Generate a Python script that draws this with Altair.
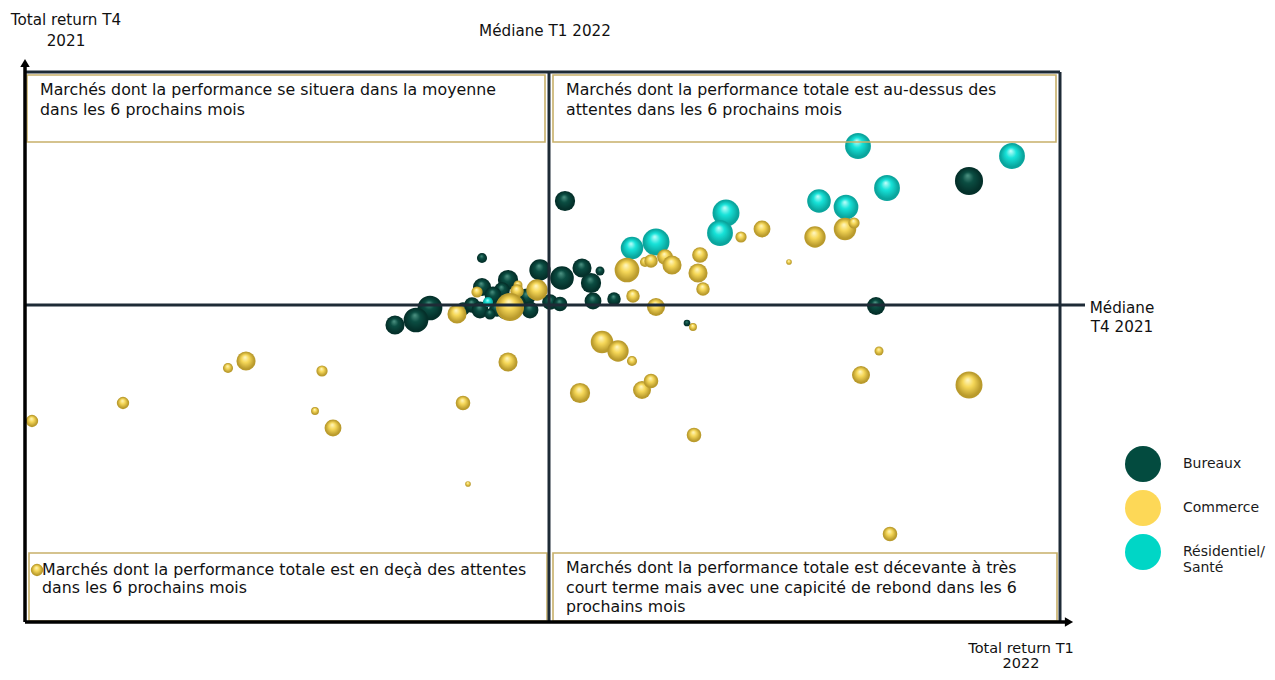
import altair as alt
import pandas as pd

FONT = "DejaVu Sans"

# ---- data (x: total return T1 2022 %, y: total return T4 2021 %, taille: poids du marché)
bur_x = [1.33, 1.91, 1.59, 1.33, 1.53, 1.44, 1.78, 1.14, 1.23, 1.31, 1.48, 1.41, 1.81, 2.01, 2.11,
         0.81, 0.67, 0.46, 2.16, 2.13, 2.33, 2.51, 2.42, 2.44, 2.65, 6.20, 5.27, 3.38, 1.69, 1.56]
bur_y = [2.44, 2.20, 2.00, 1.86, 1.80, 1.70, 1.66, 1.42, 1.50, 1.40, 1.42, 1.32, 1.40, 1.56, 1.52,
         1.44, 1.20, 1.10, 3.58, 2.04, 2.24, 2.18, 1.94, 1.58, 1.62, 3.98, 1.48, 1.14, 1.54, 1.36]
bur_t = [9, 19, 18, 16, 14, 15, 15, 12, 14, 15, 14, 10, 15, 14, 13,
         22, 22, 17, 18, 21, 17, 8, 18, 15, 12, 25, 16, 6, 14, 13]

com_x = [1.28, 1.69, 1.68, 1.88, 1.08, 1.61, 2.78, 2.96, 3.02, 3.16, 3.23, 3.51, 3.49, 3.54, 2.84,
         3.07, 3.92, 4.13, 4.40, 4.66, 4.96, 5.05, 3.44, 2.53, 2.69, 2.83, 2.31, 2.93, 3.02, 3.45,
         5.30, 5.12, 6.20, 5.41, -3.17, -2.26, -1.03, -1.21, -0.27, -0.34, -0.16, 1.14, 1.59, 1.19, -3.12]
com_y = [1.76, 1.90, 1.78, 1.80, 1.32, 1.46, 2.20, 2.36, 2.38, 2.46, 2.30, 2.50, 2.14, 1.82, 1.68,
         1.46, 2.86, 3.02, 2.36, 2.86, 3.02, 3.14, 1.06, 0.76, 0.58, 0.38, -0.26, -0.20, -0.02, -1.10,
         0.58, 0.10, -0.10, -3.08, -0.82, -0.46, 0.38, 0.24, 0.18, -0.62, -0.96, -0.46, 0.36, -2.08, -3.80]
com_t = [10, 8, 12, 19, 17, 25, 22, 9, 12, 14, 17, 14, 17, 12, 12,
         16, 10, 15, 5, 19, 20, 10, 7, 20, 19, 9, 18, 16, 13, 13,
         8, 16, 24, 13, 11, 11, 17, 9, 10, 7, 15, 13, 17, 5, 11]

res_x = [1.39, 2.83, 3.07, 3.77, 3.71, 4.70, 4.97, 5.38, 5.09, 6.63]
res_y = [1.56, 2.64, 2.76, 3.34, 2.94, 3.58, 3.46, 3.84, 4.68, 4.48]
res_t = [9, 20, 24, 24, 23, 21, 22, 23, 23, 23]

categories = ["Bureaux", "Commerce", "Résidentiel/Santé"]
legend_colors = ["#034b3f", "#fdd857", "#00d6c6"]

median_x = 2.0   # Médiane T1 2022
median_y = 1.5   # Médiane T4 2021
x_domain = [-3.24, 7.11]
y_domain = [-4.84, 6.16]

txt_tl = ["Marchés dont la performance se situera dans la moyenne", "dans les 6 prochains mois"]
txt_tr = ["Marchés dont la performance totale est au-dessus des", "attentes dans les 6 prochains mois"]
txt_bl = ["Marchés dont la performance totale est en deçà des attentes", "dans les 6 prochains mois"]
txt_br = ["Marchés dont la performance totale est décevante à très",
          "court terme mais avec une capicité de rebond dans les 6", "prochains mois"]
lab_y = ["Total return T4", "2021"]
lab_x = ["Total return T1", "2022"]
lab_mx = "Médiane T1 2022"
lab_my = ["Médiane", "T4 2021"]

W, H = 1035, 550

df_b = pd.DataFrame({"x": bur_x, "y": bur_y, "taille": bur_t, "secteur": categories[0]})
df_c = pd.DataFrame({"x": com_x, "y": com_y, "taille": com_t, "secteur": categories[1]})
df_r = pd.DataFrame({"x": res_x, "y": res_y, "taille": res_t, "secteur": categories[2]})
df_all = pd.concat([df_b, df_r, df_c], ignore_index=True)
dummy = pd.DataFrame({"d": [0]})

xs = alt.Scale(domain=x_domain, nice=False, zero=False)
ys = alt.Scale(domain=y_domain, nice=False, zero=False)
sz = alt.Scale(type="pow", exponent=2, domain=[0, 25], range=[0, 790])


def sphere(light, base, dark):
    return {
        "gradient": "radial",
        "x1": 0.45, "y1": 0.3, "r1": 0.0,
        "x2": 0.5, "y2": 0.5, "r2": 0.5,
        "stops": [
            {"offset": 0.0, "color": light},
            {"offset": 0.4, "color": base},
            {"offset": 0.88, "color": dark},
            {"offset": 1.0, "color": dark},
        ],
    }


def bubbles(df, grad):
    return alt.Chart(df).mark_point(
        shape="circle", filled=True, fill=grad, strokeWidth=0, opacity=1
    ).encode(
        x=alt.X("x:Q", scale=xs, axis=None),
        y=alt.Y("y:Q", scale=ys, axis=None),
        size=alt.Size("taille:Q", scale=sz, legend=None),
    )


legend_layer = alt.Chart(df_all).mark_point(shape="circle", filled=True, opacity=0).encode(
    x=alt.X("x:Q", scale=xs, axis=None),
    y=alt.Y("y:Q", scale=ys, axis=None),
    color=alt.Color(
        "secteur:N",
        scale=alt.Scale(domain=categories, range=legend_colors),
        legend=alt.Legend(
            title=None, orient="none", legendX=1100, legendY=374,
            symbolType="circle", symbolSize=1296, symbolStrokeWidth=0, symbolOpacity=1,
            labelFont=FONT, labelFontSize=14, labelColor="#1a1a1a", labelOffset=22,
            rowPadding=8, padding=0, labelLimit=200,
            labelExpr="datum.label == 'Résidentiel/Santé' ? ['Résidentiel/', 'Santé'] : datum.label",
        ),
    ),
)

pts_b = bubbles(df_b, sphere("#4f9585", "#0b4d42", "#04302a"))
pts_r = bubbles(df_r, sphere("#c4fffb", "#17e3d9", "#0aa59d"))
pts_c = bubbles(df_c, sphere("#fff8c8", "#f6d859", "#b99a2c"))

GOLD = "#c7b06a"
DARK = "#1e2b36"


def box(x, x2, y, y2):
    return alt.Chart(dummy).mark_rect(fill="transparent", stroke=GOLD, strokeWidth=1.6).encode(
        x=alt.value(x), x2=alt.value(x2), y=alt.value(y), y2=alt.value(y2)
    )


def label(lines, x, y, align="left", size=15, lh=20, color="#111111"):
    # y is the position of the first line
    return alt.Chart(dummy).mark_text(
        text=lines, align=align, baseline="middle", font=FONT, fontSize=size,
        lineHeight=lh, color=color
    ).encode(x=alt.value(x), y=alt.value(y))


def hrule(x, x2, y, color, width):
    return alt.Chart(dummy).mark_rule(color=color, strokeWidth=width).encode(
        x=alt.value(x), x2=alt.value(x2), y=alt.value(y)
    )


def vrule(x, y, y2, color, width):
    return alt.Chart(dummy).mark_rule(color=color, strokeWidth=width).encode(
        x=alt.value(x), y=alt.value(y), y2=alt.value(y2)
    )


med_v = alt.Chart(dummy).mark_rule(color=DARK, strokeWidth=3).encode(
    x=alt.datum(median_x, scale=xs), y=alt.value(0), y2=alt.value(H)
)
med_h = alt.Chart(dummy).mark_rule(color=DARK, strokeWidth=3).encode(
    y=alt.datum(median_y, scale=ys), x=alt.value(0), x2=alt.value(1060)
)

arrow_up = alt.Chart(dummy).mark_point(shape="triangle-up", filled=True, size=90, color="#000000", opacity=1).encode(
    x=alt.value(0), y=alt.value(-9)
)
arrow_right = alt.Chart(dummy).mark_point(shape="triangle-right", filled=True, size=90, color="#000000", opacity=1).encode(
    x=alt.value(1044), y=alt.value(H)
)

BOX_FS = 15.8
LAB_FS = 15.2

chart = alt.layer(
    legend_layer,
    pts_b, pts_r, pts_c,
    box(2, 520, 3, 70), box(528, 1031, 3, 70), box(4, 522, 481, 549), box(528, 1032, 481, 549),
    label(txt_tl, 15, 18, size=BOX_FS), label(txt_tr, 541, 18, size=BOX_FS),
    label(txt_bl, 17, 498, size=BOX_FS, lh=18), label(txt_br, 541, 496, size=BOX_FS, lh=19.5),
    hrule(0, W, 0, DARK, 3), vrule(W, 0, H, DARK, 3),
    med_v, med_h,
    vrule(0, -6, H, "#000000", 3.5), hrule(0, 1042, H, "#000000", 3.5),
    arrow_up, arrow_right,
    label(lab_y, 41, -52, align="center", size=LAB_FS, lh=21),
    label(lab_mx, 520, -41, align="center", size=LAB_FS),
    label(lab_my, 1097, 236, align="center", size=LAB_FS, lh=19),
    label(lab_x, 996, 577, align="center", size=14.5, lh=14.5),
).properties(
    width=W, height=H,
    padding={"left": 17, "top": 64, "right": 207, "bottom": 50},
    autosize=alt.AutoSizeParams(type="none"),
).configure_view(strokeWidth=0)

chart.save("out.html", embed_options={"renderer": "svg", "actions": False})
